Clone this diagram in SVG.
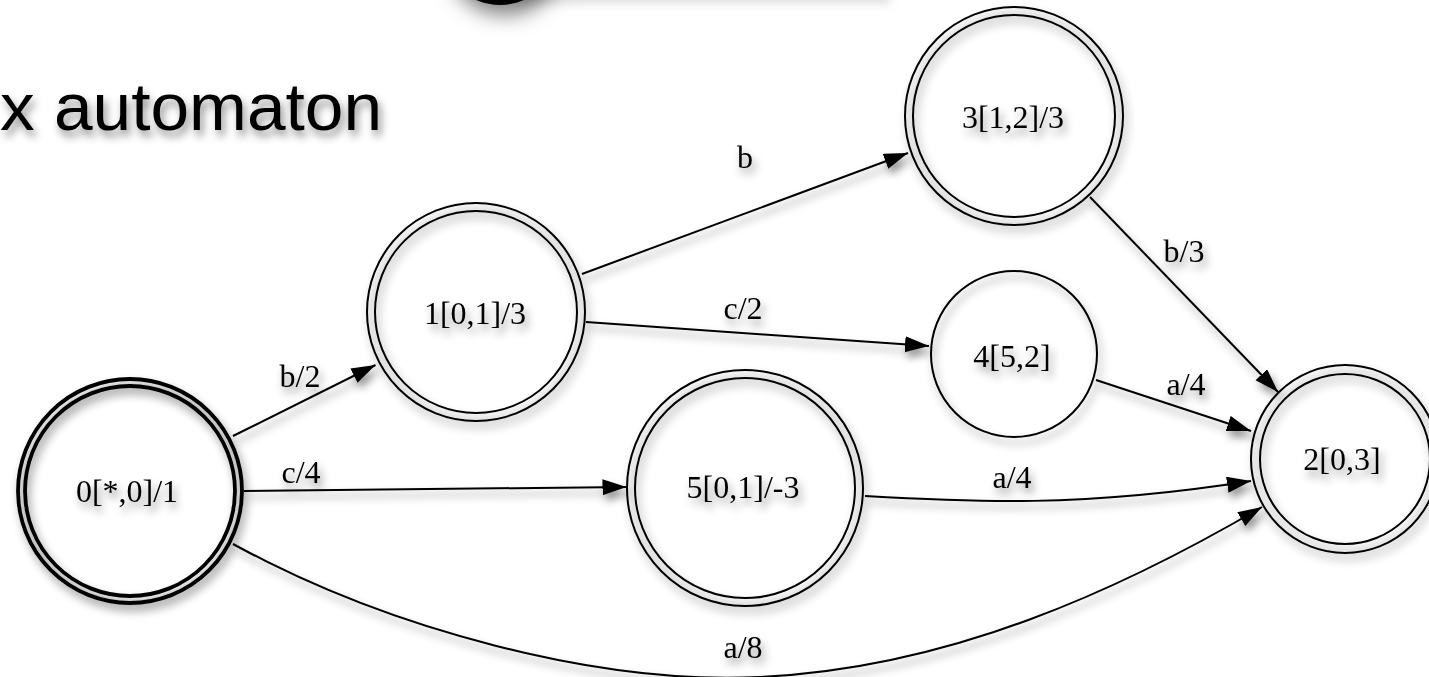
<svg xmlns="http://www.w3.org/2000/svg" width="1429" height="677" viewBox="0 0 1429 677">
<defs>
<filter id="sh" x="-30%" y="-30%" width="160%" height="160%">
<feDropShadow dx="3" dy="6" stdDeviation="4" flood-color="#000" flood-opacity="0.45"/>
</filter>
<filter id="shl" x="-30%" y="-30%" width="160%" height="200%">
<feDropShadow dx="3" dy="4" stdDeviation="5" flood-color="#000" flood-opacity="0.12"/>
</filter>
<filter id="shc" x="-50%" y="-50%" width="200%" height="200%">
<feDropShadow dx="5" dy="10" stdDeviation="10" flood-color="#000" flood-opacity="0.5"/>
</filter>
<marker id="ah" markerUnits="userSpaceOnUse" markerWidth="26" markerHeight="18" refX="24" refY="8" orient="auto" viewBox="0 0 26 18">
<path d="M0,0 L24,8 L0,16 z" fill="#000"/>
</marker>
<style>
.st{fill:none;stroke:#000;stroke-width:2}
.st0{fill:none;stroke:#000;stroke-width:3.8}
.lbl{font-family:"Liberation Serif","Times New Roman",serif;font-size:32px;fill:#000;text-anchor:middle}
.e{fill:none;stroke:#000;stroke-width:2;marker-end:url(#ah)}
</style>
</defs>
<rect width="1429" height="677" fill="#fff"/>
<g id="slide-top">
<rect x="515" y="-70" width="372" height="70" fill="#fff" filter="url(#shl)"/>
<circle cx="500" cy="-54" r="59" fill="#000" filter="url(#shc)"/>
</g>
<g id="title" filter="url(#sh)">
<text x="0" y="130" font-family="'Liberation Sans',Arial,sans-serif" font-size="66" textLength="382" lengthAdjust="spacingAndGlyphs">x automaton</text>
</g>
<g id="connectors" filter="url(#sh)">
<path class="e" d="M233,436 L375.5,365"/>
<path class="e" d="M244,491 L626.5,487"/>
<path class="e" d="M582,274 L908,153"/>
<path class="e" d="M586,322 L929,346"/>
<path class="e" d="M1090,197 L1278,392"/>
<path class="e" d="M1096,380 L1251,431"/>
<path class="e" d="M865,496 C970,502 1080,508 1251,481"/>
<path class="e" d="M233,544 C390,630 600,685 760,677 C950,668 1120,590 1262,507"/>
<text class="lbl" x="300" y="387">b/2</text>
<text class="lbl" x="301" y="483">c/4</text>
<text class="lbl" x="745" y="168">b</text>
<text class="lbl" x="743" y="319">c/2</text>
<text class="lbl" x="1184" y="262">b/3</text>
<text class="lbl" x="1186" y="395">a/4</text>
<text class="lbl" x="1012" y="488">a/4</text>
<text class="lbl" x="743" y="658">a/8</text>
</g>
<g id="node0" filter="url(#sh)">
<circle class="st0" cx="130" cy="491" r="112"/>
<circle class="st0" cx="130" cy="491" r="105"/>
<text class="lbl" x="127" y="502">0[*,0]/1</text>
</g>
<g id="node1" filter="url(#sh)">
<circle class="st" cx="476" cy="312" r="109"/>
<circle class="st" cx="476" cy="312" r="101"/>
<text class="lbl" x="475" y="324">1[0,1]/3</text>
</g>
<g id="node3" filter="url(#sh)">
<circle class="st" cx="1014" cy="116" r="109"/>
<circle class="st" cx="1014" cy="116" r="101"/>
<text class="lbl" x="1013" y="128">3[1,2]/3</text>
</g>
<g id="node4" filter="url(#sh)">
<circle class="st" cx="1014" cy="354" r="83"/>
<text class="lbl" x="1012" y="367">4[5,2]</text>
</g>
<g id="node5" filter="url(#sh)">
<circle class="st" cx="745" cy="488" r="118"/>
<circle class="st" cx="745" cy="488" r="110"/>
<text class="lbl" x="743" y="498">5[0,1]/-3</text>
</g>
<g id="node2" filter="url(#sh)">
<circle class="st" cx="1345" cy="459" r="94"/>
<circle class="st" cx="1345" cy="459" r="85"/>
<text class="lbl" x="1342" y="470">2[0,3]</text>
</g>
</svg>
